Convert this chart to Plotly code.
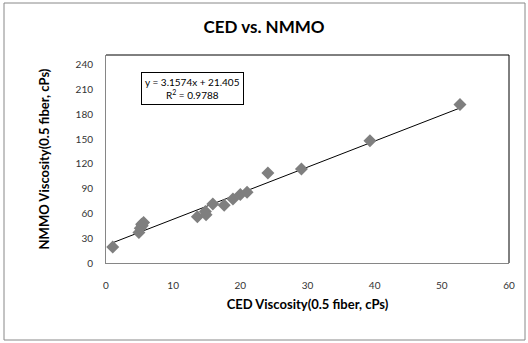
import plotly.graph_objects as go

ced = [1.0, 4.9, 5.1, 5.3, 5.4, 5.6, 13.6, 14.8, 14.9, 15.9, 17.6, 18.9, 20.0, 21.0, 24.1, 29.1, 39.3, 52.7]
nmmo = [19.5, 37, 42, 47, 45, 49, 56, 62.5, 58.5, 71.5, 70, 77.6, 83, 85.6, 109, 114, 148, 192]
slope = 3.1574
intercept = 21.405
r2 = 0.9788
x_ticks = [0, 10, 20, 30, 40, 50, 60]
y_ticks = [0, 30, 60, 90, 120, 150, 180, 210, 240]

W, H = 528, 343
L, R, T, B = 106, 19, 55, 80
pw, ph = W - L - R, H - T - B

def px(x):
    return (x - L) / pw

def py(y):
    return (H - B - y) / ph

xmin, xmax = min(ced), max(ced)
fig = go.Figure()
fig.add_trace(go.Scatter(x=[xmin, xmax], y=[slope * xmin + intercept, slope * xmax + intercept],
                         mode="lines", line=dict(color="black", width=1), showlegend=False))
fig.add_trace(go.Scatter(x=ced, y=nmmo, mode="markers",
                         marker=dict(symbol="diamond", size=10, color="#7f7f7f"), showlegend=False))

font = "Lato, 'Open Sans', sans-serif"
fig.update_layout(
    width=W, height=H, margin=dict(l=L, r=R, t=T, b=B, autoexpand=False),
    paper_bgcolor="white", plot_bgcolor="rgba(0,0,0,0)",
    font=dict(family=font, color="#000"),
    title=dict(text="<b>CED vs. NMMO</b>", x=0.5, xanchor="center", y=1 - 27 / H, yanchor="middle",
               font=dict(size=17, family=font)),
    xaxis=dict(range=[0, 60], tickvals=x_ticks, showgrid=False, zeroline=False, automargin=False,
               showline=True, linecolor="#868686", linewidth=1,
               tickfont=dict(size=10, color="#333"), ticks="", ticklabelstandoff=13,
               title=dict(text="<b>CED Viscosity(0.5 fiber, cPs)</b>", font=dict(size=13), standoff=9)),
    yaxis=dict(range=[0, 252], tickvals=y_ticks, showgrid=False, zeroline=False, automargin=False,
               showline=True, linecolor="#868686", linewidth=1,
               tickfont=dict(size=10, color="#333"), ticks="", ticklabelstandoff=10,
               title=dict(text="<b>NMMO Viscosity(0.5 fiber, cPs)</b>", font=dict(size=13), standoff=23)),
    shapes=[
        dict(type="line", xref="paper", yref="paper", x0=0, x1=1, y0=1, y1=1,
             line=dict(color="black", width=1), layer="above"),
        dict(type="line", xref="paper", yref="paper", x0=1, x1=1, y0=0, y1=1,
             line=dict(color="black", width=1), layer="above"),
        dict(type="rect", xref="paper", yref="paper", x0=px(4), x1=px(525), y0=py(340), y1=py(3),
             line=dict(color="#888", width=1), layer="below"),
    ],
    annotations=[dict(xref="paper", yref="paper", x=px(192), y=py(88), xanchor="center", yanchor="middle",
                      text=f"y = {slope}x + {intercept}<br>R<sup>2</sup> = {r2}",
                      showarrow=False, font=dict(size=10, family=font), align="center",
                      bordercolor="black", borderwidth=1, bgcolor="white", borderpad=3)],
)
fig.write_html("out.html", config={"displayModeBar": False},
               post_script="document.body.style.margin='0';document.body.style.overflow='hidden';")
